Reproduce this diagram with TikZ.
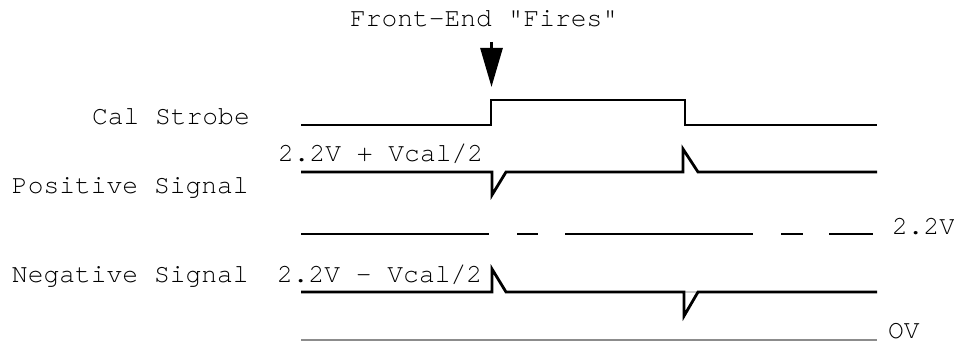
\documentclass[tikz,border=0pt]{standalone}
\usepackage{fontspec}
\newfontfamily\courfont{TeX Gyre Cursor}
\usetikzlibrary{arrows.meta}
\tikzset{
  lbl/.style={inner sep=0pt, outer sep=0pt, anchor=base west, font=\courfont\fontsize{26.3}{30}\selectfont},
  wave/.style={line width=2.8pt, black},
  zeroline/.style={line width=2.8pt, draw={rgb,255:red,140;green,140;blue,140}},
  faint/.style={line width=2.8pt, draw={rgb,255:red,200;green,200;blue,200}},
  firearrow/.style={line width=2.8pt, -{Triangle[width=22pt,length=39pt]}}
}
\begin{document}
\begin{tikzpicture}[x=1pt,y=-1pt]
\useasboundingbox (0,0) rectangle (954,342);
% labels
\node[lbl] (title) at (350,27) {Front-End "Fires"};
\node[lbl] (cal) at (92,125) {Cal Strobe};
\node[lbl] (pos) at (12,194) {Positive Signal};
\node[lbl] (poslev) at (278,162) {2.2V + Vcal/2};
\node[lbl] (neg) at (12,282) {Negative Signal};
\node[lbl] (neglev) at (277,282) {2.2V – Vcal/2};
\node[lbl] (mid) at (892,234) {2.2V};
\node[lbl] (zero) at (888,338) {OV};
% arrow
\coordinate (arrtop) at (491.5,42);
\coordinate (arrtip) at (491.5,87);
\draw[firearrow] (arrtop) -- (arrtip);
% cal strobe
\draw[wave] (301,125) -- (491,125) -- (491,100) -- (685,100) -- (685,125) -- (877,125);
% positive signal
\draw[wave] (301,172) -- (492,172) -- (492,195) -- (506,172) -- (683,172) -- (683,149) -- (698,172) -- (877,172);
% 2.2V dashed reference
\draw[wave] (301,234) -- (489,234);
\draw[wave] (517,234) -- (538,234);
\draw[wave] (565,234) -- (753,234);
\draw[wave] (781,234) -- (803,234);
\draw[wave] (829,234) -- (873,234);
% negative signal
\draw[faint] (684,292) -- (698,292);
\draw[wave] (301,292) -- (492,292) -- (492,269) -- (506,292) -- (684,292) -- (684,316) -- (698,292) -- (877,292);
% 0V
\draw[zeroline] (301,340) -- (877,340);
\end{tikzpicture}
\end{document}
